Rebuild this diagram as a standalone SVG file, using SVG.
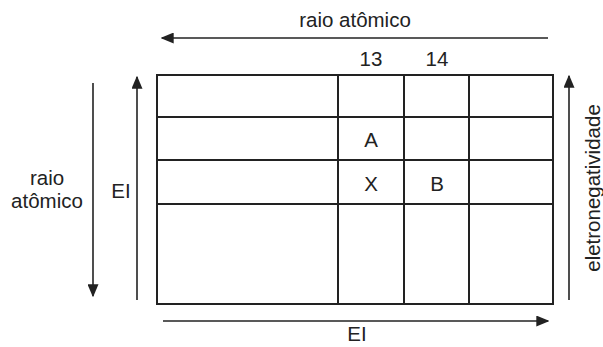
<svg xmlns="http://www.w3.org/2000/svg" width="603" height="347" viewBox="0 0 603 347">
<style>
text{font-family:"Liberation Sans",Arial,sans-serif;font-size:20.5px;fill:#222}
.t{text-anchor:middle}
.g{stroke:#222;stroke-width:2;fill:none}
.a{stroke:#222;stroke-width:1.6;fill:none}
</style>
<defs>
<marker id="ah2" viewBox="0 0 10 10" refX="9" refY="5" markerWidth="13" markerHeight="11" markerUnits="userSpaceOnUse" orient="auto" preserveAspectRatio="none">
<path d="M0,0 L10,5 L0,10 z" fill="#222"/>
</marker>
</defs>
<g id="table">
<rect class="g" x="157" y="75" width="396" height="229"/>
<line class="g" x1="338" y1="75" x2="338" y2="304"/>
<line class="g" x1="404" y1="75" x2="404" y2="304"/>
<line class="g" x1="469" y1="75" x2="469" y2="304"/>
<line class="g" x1="157" y1="117" x2="553" y2="117"/>
<line class="g" x1="157" y1="160" x2="553" y2="160"/>
<line class="g" x1="157" y1="204" x2="553" y2="204"/>
</g>
<g id="cells">
<text class="t" x="371" y="66">13</text>
<text class="t" x="437" y="66">14</text>
<text class="t" x="371" y="147">A</text>
<text class="t" x="371" y="191">X</text>
<text class="t" x="437" y="191">B</text>
</g>
<g id="connectors">
<line class="a" x1="548" y1="38" x2="162" y2="38" marker-end="url(#ah2)"/>
<line class="a" x1="93" y1="83" x2="93" y2="296" marker-end="url(#ah2)"/>
<line class="a" x1="137" y1="300" x2="137" y2="77" marker-end="url(#ah2)"/>
<line class="a" x1="163" y1="321" x2="548" y2="321" marker-end="url(#ah2)"/>
<line class="a" x1="569" y1="300" x2="569" y2="76" marker-end="url(#ah2)"/>
</g>
<g id="labels">
<text class="t" x="355" y="27">raio atômico</text>
<text class="t" x="47" y="185">raio</text>
<text class="t" x="47" y="208">atômico</text>
<text class="t" x="121" y="198">EI</text>
<text class="t" x="357" y="341">EI</text>
<text class="t" transform="translate(600,188) rotate(-90)">eletronegatividade</text>
</g>
</svg>
